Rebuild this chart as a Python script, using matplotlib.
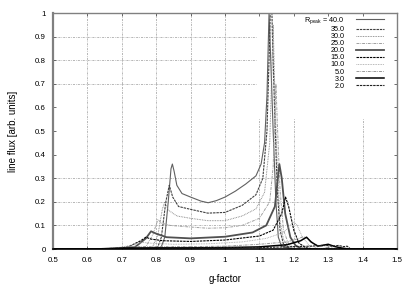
import matplotlib
matplotlib.use("Agg")
import matplotlib.pyplot as plt

plt.rcParams["font.family"] = ["Liberation Sans", "DejaVu Sans"]
plt.rcParams["mathtext.fontset"] = "custom"
plt.rcParams["mathtext.rm"] = "Liberation Sans"

# ── data ──────────────────────────────────────────────────────────────────
R_PEAK = ["40.0", "35.0", "30.0", "25.0", "20.0", "15.0", "10.0", "5.0", "3.0", "2.0"]

g_40 = [0.5, 0.80, 0.815, 0.825, 0.835, 0.843, 0.847, 0.852, 0.86, 0.875, 0.9, 0.93, 0.951,
        0.975, 1.0, 1.03, 1.06, 1.09, 1.105, 1.115, 1.122, 1.128, 1.133, 1.14, 1.148, 1.155,
        1.165, 1.2, 1.5]
f_40 = [0, 0, 0.01, 0.05, 0.2, 0.34, 0.36, 0.33, 0.27, 0.235, 0.22, 0.203, 0.196,
        0.205, 0.22, 0.245, 0.275, 0.31, 0.36, 0.45, 0.65, 1.0, 0.8, 0.5, 0.2, 0.05,
        0.01, 0, 0]

g_35 = [0.5, 0.79, 0.805, 0.815, 0.828, 0.838, 0.848, 0.865, 0.9, 0.95, 1.0, 1.05, 1.09,
        1.11, 1.122, 1.13, 1.134, 1.138, 1.145, 1.152, 1.16, 1.17, 1.19, 1.5]
f_35 = [0, 0, 0.01, 0.05, 0.2, 0.27, 0.22, 0.18, 0.168, 0.152, 0.155, 0.185, 0.23,
        0.3, 0.5, 0.9, 1.15, 0.9, 0.55, 0.25, 0.08, 0.02, 0, 0]

g_30 = [0.5, 0.77, 0.79, 0.805, 0.818, 0.825, 0.835, 0.86, 0.9, 0.95, 1.0, 1.05, 1.09,
        1.115, 1.13, 1.14, 1.146, 1.152, 1.16, 1.17, 1.185, 1.2, 1.5]
f_30 = [0, 0, 0.01, 0.06, 0.17, 0.2, 0.165, 0.14, 0.13, 0.12, 0.12, 0.14, 0.17,
        0.24, 0.45, 0.95, 0.6, 0.35, 0.12, 0.04, 0.01, 0, 0]

g_25 = [0.5, 0.74, 0.77, 0.79, 0.805, 0.815, 0.84, 0.9, 0.95, 1.0, 1.05, 1.1, 1.13,
        1.14, 1.148, 1.153, 1.16, 1.17, 1.185, 1.2, 1.22, 1.5]
f_25 = [0, 0, 0.01, 0.06, 0.125, 0.11, 0.1, 0.093, 0.088, 0.09, 0.1, 0.13, 0.2,
        0.35, 0.7, 0.5, 0.25, 0.08, 0.02, 0.005, 0, 0]

g_20 = [0.5, 0.7, 0.74, 0.77, 0.785, 0.8, 0.83, 0.9, 1.0, 1.08, 1.12, 1.145, 1.158,
        1.165, 1.175, 1.19, 1.205, 1.22, 1.25, 1.5]
f_20 = [0, 0, 0.01, 0.045, 0.075, 0.065, 0.05, 0.045, 0.052, 0.07, 0.1, 0.18, 0.36,
        0.3, 0.15, 0.05, 0.015, 0.003, 0, 0]

g_15 = [0.5, 0.68, 0.72, 0.755, 0.77, 0.785, 0.82, 0.9, 1.0, 1.1, 1.14, 1.165, 1.176,
        1.185, 1.2, 1.215, 1.235, 1.26, 1.5]
f_15 = [0, 0, 0.01, 0.035, 0.05, 0.042, 0.035, 0.032, 0.038, 0.055, 0.08, 0.15, 0.22,
        0.18, 0.08, 0.025, 0.005, 0, 0]

g_10 = [0.5, 0.65, 0.7, 0.74, 0.76, 0.78, 0.85, 0.95, 1.05, 1.12, 1.17, 1.19, 1.2,
        1.21, 1.225, 1.245, 1.27, 1.3, 1.5]
f_10 = [0, 0, 0.008, 0.02, 0.028, 0.025, 0.02, 0.022, 0.03, 0.045, 0.07, 0.1, 0.116,
        0.1, 0.05, 0.015, 0.003, 0, 0]

g_5 = [0.5, 0.63, 0.68, 0.73, 0.8, 0.9, 1.0, 1.1, 1.18, 1.215, 1.228, 1.24, 1.26,
       1.29, 1.32, 1.35, 1.5]
f_5 = [0, 0, 0.005, 0.01, 0.01, 0.01, 0.012, 0.02, 0.03, 0.045, 0.052, 0.045, 0.02,
       0.008, 0.002, 0, 0]

g_3 = [0.5, 0.62, 0.7, 0.8, 0.9, 1.0, 1.1, 1.18, 1.22, 1.237, 1.25, 1.27, 1.3, 1.32,
       1.34, 1.36, 1.5]
f_3 = [0, 0, 0.004, 0.005, 0.005, 0.006, 0.009, 0.018, 0.035, 0.05, 0.03, 0.012, 0.02,
       0.01, 0.004, 0, 0]

g_2 = [0.5, 0.62, 0.7, 0.8, 0.9, 1.0, 1.1, 1.2, 1.25, 1.29, 1.31, 1.33, 1.345, 1.355,
       1.365, 1.5]
f_2 = [0, 0, 0.003, 0.004, 0.004, 0.005, 0.006, 0.01, 0.012, 0.016, 0.012, 0.015,
       0.01, 0.012, 0, 0]

G_SERIES = [g_40, g_35, g_30, g_25, g_20, g_15, g_10, g_5, g_3, g_2]
F_SERIES = [f_40, f_35, f_30, f_25, f_20, f_15, f_10, f_5, f_3, f_2]

X_TICKS = [0.5, 0.6, 0.7, 0.8, 0.9, 1.0, 1.1, 1.2, 1.3, 1.4, 1.5]
X_LABELS = ["0.5", "0.6", "0.7", "0.8", "0.9", "1", "1.1", "1.2", "1.3", "1.4", "1.5"]
Y_TICKS = [0, 0.1, 0.2, 0.3, 0.4, 0.5, 0.6, 0.7, 0.8, 0.9, 1.0]
Y_LABELS = ["0", "0.1", "0.2", "0.3", "0.4", "0.5", "0.6", "0.7", "0.8", "0.9", "1"]

# ── styles (gnuplot-like monochrome) ──────────────────────────────────────
STYLES = [
    dict(color="#606060", linestyle="-", linewidth=0.8),
    dict(color="#404040", linestyle=(0, (2.2, 0.8)), linewidth=0.8),
    dict(color="#808080", linestyle=(0, (0.8, 0.9)), linewidth=0.7),
    dict(color="#a0a0a0", linestyle=(0, (3, 1, 0.8, 1)), linewidth=0.7),
    dict(color="#505050", linestyle="-", linewidth=1.3),
    dict(color="#000000", linestyle=(0, (2.2, 0.8)), linewidth=0.8),
    dict(color="#a8a8a8", linestyle=(0, (0.8, 0.9)), linewidth=0.7),
    dict(color="#999999", linestyle=(0, (3, 1, 0.8, 1)), linewidth=0.7),
    dict(color="#000000", linestyle="-", linewidth=1.1),
    dict(color="#202020", linestyle=(0, (2.2, 0.8)), linewidth=0.8),
]

fig = plt.figure(figsize=(4.15, 2.91), dpi=100)
ax = fig.add_axes([53 / 415, 1 - 249 / 291, 344 / 415, 236 / 291])

# grid (dash-dot), cleared under the key area
grid_kw = dict(color="#9a9a9a", linestyle=(0, (3, 1.5, 1, 1.5)), linewidth=0.5, zorder=0.8)
for y in [0.1, 0.2, 0.3]:
    ax.axhline(y, **grid_kw)
for y in [0.7, 0.8, 0.9]:
    ax.axhline(y, xmax=0.59, **grid_kw)
for x in [0.6, 0.7, 0.8, 0.9, 1.0]:
    ax.axvline(x, **grid_kw)
for x in [1.1, 1.2, 1.4]:
    ax.axvline(x, ymax=0.555, **grid_kw)

for i, (g, f, r) in enumerate(zip(G_SERIES, F_SERIES, R_PEAK)):
    lab = r"R$_\mathregular{peak}$ = " + r if i == 0 else r
    ax.plot(g, f, label=lab, zorder=2, **STYLES[i])

ax.set_xlim(0.5, 1.5)
ax.set_ylim(0, 1)
ax.set_xticks(X_TICKS)
ax.set_xticklabels(X_LABELS)
ax.set_yticks(Y_TICKS)
ax.set_yticklabels(Y_LABELS)
ax.tick_params(direction="in", length=2.5, width=0.6, labelsize=5.7,
               top=True, right=True, color="#555555")
ax.tick_params(axis="x", pad=6)
ax.tick_params(axis="y", pad=5)

for side, col, lw in [("left", "#808080", 1.6), ("bottom", "#000000", 1.2),
                      ("top", "#808080", 1.0), ("right", "#808080", 1.0)]:
    ax.spines[side].set_color(col)
    ax.spines[side].set_linewidth(lw)

ax.set_xlabel("g-factor", fontsize=7, labelpad=7)
ax.set_ylabel("line flux [arb. units]", fontsize=7, labelpad=12)

ax.legend(loc="upper right", bbox_to_anchor=(0.962, 0.99), frameon=False,
          markerfirst=False, fontsize=5.2, labelspacing=0.0, handlelength=3.8,
          handletextpad=1.6, borderpad=0, borderaxespad=0)

fig.savefig("out.png", dpi=100)
